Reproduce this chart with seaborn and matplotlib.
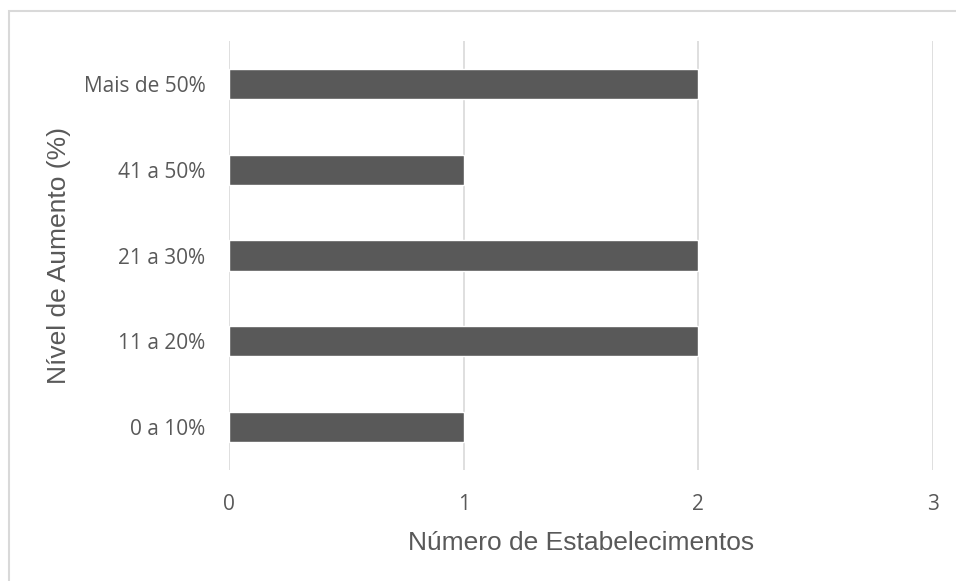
import matplotlib
matplotlib.use("Agg")
import matplotlib.pyplot as plt
import matplotlib.patches as mpatches
import seaborn as sns
import pandas as pd

# Datos del gráfico
categorias = ["Mais de 50%", "41 a 50%", "21 a 30%", "11 a 20%", "0 a 10%"]
valores = [2, 1, 2, 2, 1]
ticks_x = [0, 1, 2, 3]

COR_BARRA = "#595959"
COR_TEXTO = "#595959"
COR_GRADE = "#d9d9d9"

df = pd.DataFrame({"categoria": categorias, "valor": valores})

sns.set_theme(style="white")
plt.rcParams["font.family"] = ["Open Sans", "DejaVu Sans"]

fig = plt.figure(figsize=(9.56, 5.81), dpi=100)
ax = fig.add_axes([229 / 956, 1 - 470 / 581, (933 - 229) / 956, (470 - 41) / 581])

sns.barplot(data=df, x="valor", y="categoria", order=categorias,
            color=COR_BARRA, saturation=1, width=0.35, ax=ax, zorder=3)

ax.set_xlim(0, 3)
ax.set_ylim(len(categorias) - 0.5, -0.5)
ax.set_xticks(ticks_x)
ax.set_xticklabels([str(t) for t in ticks_x])
ax.grid(axis="x", color=COR_GRADE, linewidth=1.2, zorder=0)
ax.grid(axis="y", visible=False)
for s in ax.spines.values():
    s.set_visible(False)
ax.tick_params(axis="both", length=0, labelsize=15, labelcolor=COR_TEXTO)
ax.tick_params(axis="x", pad=17)
ax.tick_params(axis="y", pad=17)

ax.set_xlabel("Número de Estabelecimentos", fontsize=19, color=COR_TEXTO,
              family=["Liberation Sans", "DejaVu Sans"], labelpad=12)
ax.set_ylabel("Nível de Aumento (%)", fontsize=19, color=COR_TEXTO,
              family=["Liberation Sans", "DejaVu Sans"], labelpad=9)

# Borde del área del gráfico
borde = mpatches.Rectangle((9 / 956, -0.05), 1.2, 1 - 11 / 581 + 0.05,
                           transform=fig.transFigure, fill=False,
                           edgecolor="#d9d9d9", linewidth=1.5)
fig.patches.append(borde)

fig.savefig("out.png", dpi=100)
plt.close(fig)
